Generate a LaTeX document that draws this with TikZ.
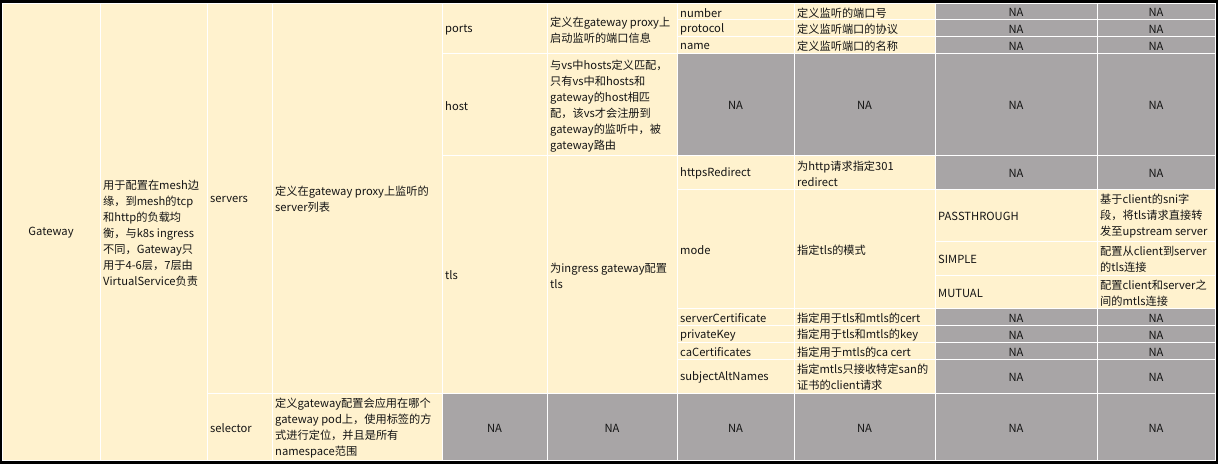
\documentclass[tikz,border=0pt]{standalone}
\usepackage{fontspec}
\setmainfont{Noto Sans CJK SC}
\definecolor{cream}{RGB}{255,242,206}
\definecolor{graycell}{RGB}{168,165,166}
\definecolor{ink}{RGB}{20,20,20}
\tikzset{
  creamcell/.style={fill=cream, draw=white, line width=1pt},
  graycellst/.style={fill=graycell, draw=white, line width=1pt},
  txt/.style={font=\fontsize{11.2}{16}\selectfont, text=ink, inner sep=0pt, align=left, yshift=-1.5pt},
  txtc/.style={font=\fontsize{11.2}{16}\selectfont, text=ink, inner sep=0pt, align=center, yshift=-1.5pt},
}
\newcommand\tabcellL[7]{\path[#6] (#2,#3) rectangle (#4,#5); \node[txt, anchor=west] (#1) at ({#2+3},{(#3+#5)/2}) {#7};}
\newcommand\tabcellC[7]{\path[#6] (#2,#3) rectangle (#4,#5); \node[txtc] (#1) at ({(#2+#4)/2},{(#3+#5)/2}) {#7};}
\begin{document}
\begin{tikzpicture}[x=1pt,y=-1pt]
\fill[black] (0,0) rectangle (1218,464);
% column 1-2
\tabcellC{gw}{2}{3}{100}{460}{creamcell}{Gateway}
\tabcellL{gwdesc}{100}{3}{207}{460}{creamcell}{用于配置在mesh边\\缘，到mesh的tcp\\和http的负载均\\衡，与k8s ingress\\不同，Gateway只\\用于4-6层，7层由\\VirtualService负责}
% column 3-4
\tabcellL{servers}{207}{3}{272}{393}{creamcell}{servers}
\tabcellL{serversdesc}{272}{3}{442}{393}{creamcell}{定义在gateway proxy上监听的\\server列表}
\tabcellL{selector}{207}{393}{272}{460}{creamcell}{selector}
\tabcellL{selectordesc}{272}{393}{442}{460}{creamcell}{定义gateway配置会应用在哪个\\gateway pod上，使用标签的方\\式进行定位，并且是所有\\namespace范围}
% column 5-6
\tabcellL{ports}{442}{3}{547}{53.5}{creamcell}{ports}
\tabcellL{portsdesc}{547}{3}{677}{53.5}{creamcell}{定义在gateway proxy上\\启动监听的端口信息}
\tabcellL{host}{442}{53.5}{547}{155}{creamcell}{host}
\tabcellL{hostdesc}{547}{53.5}{677}{155}{creamcell}{与vs中hosts定义匹配，\\只有vs中和hosts和\\gateway的host相匹\\配，该vs才会注册到\\gateway的监听中，被\\gateway路由}
\tabcellL{tls}{442}{155}{547}{393}{creamcell}{tls}
\tabcellL{tlsdesc}{547}{155}{677}{393}{creamcell}{为ingress gateway配置\\tls}
\tabcellC{selna5}{442}{393}{547}{460}{graycellst}{NA}
\tabcellC{selna6}{547}{393}{677}{460}{graycellst}{NA}
% column 7-8
\tabcellL{number}{677}{3}{794}{19.5}{creamcell}{number}
\tabcellL{numberdesc}{794}{3}{935}{19.5}{creamcell}{定义监听的端口号}
\tabcellL{protocol}{677}{19.5}{794}{36.5}{creamcell}{protocol}
\tabcellL{protocoldesc}{794}{19.5}{935}{36.5}{creamcell}{定义监听端口的协议}
\tabcellL{name}{677}{36.5}{794}{53.5}{creamcell}{name}
\tabcellL{namedesc}{794}{36.5}{935}{53.5}{creamcell}{定义监听端口的名称}
\tabcellC{hostna7}{677}{53.5}{794}{155}{graycellst}{NA}
\tabcellC{hostna8}{794}{53.5}{935}{155}{graycellst}{NA}
\tabcellL{https}{677}{155}{794}{189}{creamcell}{httpsRedirect}
\tabcellL{httpsdesc}{794}{155}{935}{189}{creamcell}{为http请求指定301\\redirect}
\tabcellL{mode}{677}{189}{794}{308}{creamcell}{mode}
\tabcellL{modedesc}{794}{189}{935}{308}{creamcell}{指定tls的模式}
\tabcellL{cert}{677}{308}{794}{325}{creamcell}{serverCertificate}
\tabcellL{certdesc}{794}{308}{935}{325}{creamcell}{指定用于tls和mtls的cert}
\tabcellL{key}{677}{325}{794}{342}{creamcell}{privateKey}
\tabcellL{keydesc}{794}{325}{935}{342}{creamcell}{指定用于tls和mtls的key}
\tabcellL{ca}{677}{342}{794}{359}{creamcell}{caCertificates}
\tabcellL{cadesc}{794}{342}{935}{359}{creamcell}{指定用于mtls的ca cert}
\tabcellL{san}{677}{359}{794}{393}{creamcell}{subjectAltNames}
\tabcellL{sandesc}{794}{359}{935}{393}{creamcell}{指定mtls只接收特定san的\\证书的client请求}
\tabcellC{selna7}{677}{393}{794}{460}{graycellst}{NA}
\tabcellC{selna8}{794}{393}{935}{460}{graycellst}{NA}
% column 9-10
\tabcellC{na9a}{935}{3}{1097}{19.5}{graycellst}{NA}
\tabcellC{na10a}{1097}{3}{1215}{19.5}{graycellst}{NA}
\tabcellC{na9b}{935}{19.5}{1097}{36.5}{graycellst}{NA}
\tabcellC{na10b}{1097}{19.5}{1215}{36.5}{graycellst}{NA}
\tabcellC{na9c}{935}{36.5}{1097}{53.5}{graycellst}{NA}
\tabcellC{na10c}{1097}{36.5}{1215}{53.5}{graycellst}{NA}
\tabcellC{hostna9}{935}{53.5}{1097}{155}{graycellst}{NA}
\tabcellC{hostna10}{1097}{53.5}{1215}{155}{graycellst}{NA}
\tabcellC{na9d}{935}{155}{1097}{189}{graycellst}{NA}
\tabcellC{na10d}{1097}{155}{1215}{189}{graycellst}{NA}
\tabcellL{pass}{935}{189}{1097}{241}{creamcell}{PASSTHROUGH}
\tabcellL{passdesc}{1097}{189}{1215}{241}{creamcell}{基于client的sni字\\段，将tls请求直接转\\发至upstream server}
\tabcellL{simple}{935}{241}{1097}{275}{creamcell}{SIMPLE}
\tabcellL{simpledesc}{1097}{241}{1215}{275}{creamcell}{配置从client到server\\的tls连接}
\tabcellL{mutual}{935}{275}{1097}{308}{creamcell}{MUTUAL}
\tabcellL{mutualdesc}{1097}{275}{1215}{308}{creamcell}{配置client和server之\\间的mtls连接}
\tabcellC{na9e}{935}{308}{1097}{325}{graycellst}{NA}
\tabcellC{na10e}{1097}{308}{1215}{325}{graycellst}{NA}
\tabcellC{na9f}{935}{325}{1097}{342}{graycellst}{NA}
\tabcellC{na10f}{1097}{325}{1215}{342}{graycellst}{NA}
\tabcellC{na9g}{935}{342}{1097}{359}{graycellst}{NA}
\tabcellC{na10g}{1097}{342}{1215}{359}{graycellst}{NA}
\tabcellC{na9h}{935}{359}{1097}{393}{graycellst}{NA}
\tabcellC{na10h}{1097}{359}{1215}{393}{graycellst}{NA}
\tabcellC{selna9}{935}{393}{1097}{460}{graycellst}{NA}
\tabcellC{selna10}{1097}{393}{1215}{460}{graycellst}{NA}
\end{tikzpicture}
\end{document}
